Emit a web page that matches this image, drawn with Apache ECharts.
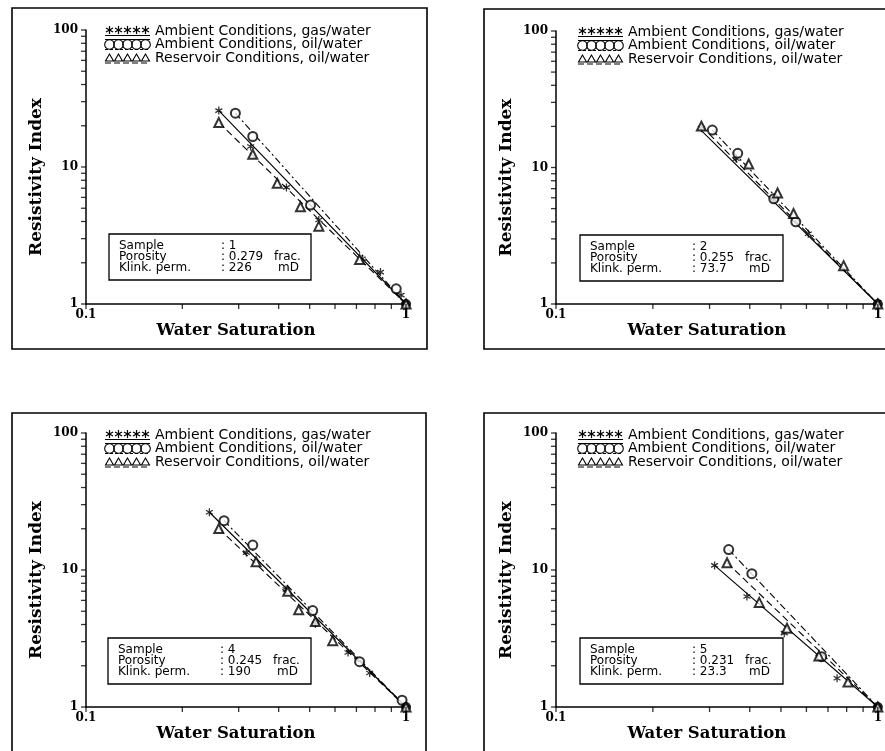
<!DOCTYPE html>
<html><head><meta charset="utf-8">
<script src="https://cdn.jsdelivr.net/npm/echarts@6/dist/echarts.min.js"></script>
<style>html,body{margin:0;padding:0;background:#fff}#c{width:885px;height:751px}</style>
</head><body><div id="c"></div>
<script>
// ---------- text ----------
const seriesNames = ['Ambient Conditions, gas/water', 'Ambient Conditions, oil/water', 'Reservoir Conditions, oil/water'];
const xTitle = 'Water Saturation';
const yTitle = 'Resistivity Index';
const infoLabels = ['Sample', 'Porosity', 'Klink. perm.'];
const infoUnits = ['', 'frac.', 'mD'];

// ---------- ticks ----------
const xTickValues = [0.1, 0.2, 0.3, 0.4, 0.5, 0.6, 0.7, 0.8, 0.9, 1];
const yTickValues = [1, 2, 3, 4, 5, 6, 7, 8, 9, 10, 20, 30, 40, 50, 60, 70, 80, 90, 100];
const xLabelValues = [0.1, 1];
const yLabelValues = [1, 10, 100];

// ---------- sample info ----------
const sampleIds = ['1', '2', '4', '5'];
const porosities = ['0.279', '0.255', '0.245', '0.231'];
const perms = ['226', '73.7', '190', '23.3'];

// ---------- data: [Sw, RI] ----------
// Sample 1
const gas1 = [[0.260, 25.8], [0.327, 14.1], [0.423, 7.1], [0.534, 4.1], [0.730, 2.14], [0.832, 1.71], [0.965, 1.16], [1, 1]];
const oil1 = [[0.293, 24.7], [0.332, 16.7], [0.503, 5.27], [0.932, 1.29], [1, 1]];
const res1 = [[0.260, 21.1], [0.332, 12.4], [0.396, 7.6], [0.468, 5.12], [0.534, 3.7], [0.716, 2.11], [1, 1]];
const gasFit1 = [[0.260, 25.8], [1, 1]];
const oilFit1 = [[0.293, 24.7], [1, 1]];
const resFit1 = [[0.260, 21.1], [1, 1]];
// Sample 2
const gas2 = [[0.283, 19.4], [0.363, 11.6], [0.477, 5.8], [0.608, 3.27], [1, 1.03]];
const oil2 = [[0.306, 18.8], [0.367, 12.7], [0.475, 5.9], [0.556, 4.0], [1, 1]];
const res2 = [[0.283, 20.1], [0.397, 10.6], [0.488, 6.5], [0.547, 4.6], [0.783, 1.91], [1, 1]];
const gasFit2 = [[0.283, 18.6], [1, 1]];
const oilFit2 = [[0.306, 18.8], [1, 1]];
const resFit2 = [[0.283, 20.1], [1, 1]];
// Sample 4
const gas4 = [[0.243, 26.4], [0.317, 13.4], [0.422, 7.2], [0.521, 4.04], [0.659, 2.5], [0.770, 1.77], [1, 1]];
const oil4 = [[0.270, 22.9], [0.332, 15.2], [0.511, 5.06], [0.716, 2.14], [0.972, 1.12], [1, 1]];
const res4 = [[0.260, 20.1], [0.340, 11.5], [0.427, 7.0], [0.462, 5.12], [0.521, 4.2], [0.590, 3.05], [1, 1]];
const gasFit4 = [[0.243, 26.4], [1, 1]];
const oilFit4 = [[0.270, 22.9], [1, 1]];
const resFit4 = [[0.260, 20.1], [1, 1]];
// Sample 5
const gas5 = [[0.311, 10.8], [0.392, 6.4], [0.512, 3.46], [0.656, 2.31], [0.747, 1.62], [1, 1]];
const oil5 = [[0.344, 14.1], [0.406, 9.4], [0.669, 2.33], [1, 1]];
const res5 = [[0.340, 11.3], [0.428, 5.8], [0.522, 3.76], [0.656, 2.36], [0.808, 1.52], [1, 1]];
const gasFit5 = [[0.311, 10.8], [1, 1]];
const oilFit5 = [[0.344, 14.1], [1, 1]];
const resFit5 = [[0.340, 11.3], [1, 1]];

const panelData = [
  {gas: gas1, oil: oil1, res: res1, gasFit: gasFit1, oilFit: oilFit1, resFit: resFit1},
  {gas: gas2, oil: oil2, res: res2, gasFit: gasFit2, oilFit: oilFit2, resFit: resFit2},
  {gas: gas4, oil: oil4, res: res4, gasFit: gasFit4, oilFit: oilFit4, resFit: resFit4},
  {gas: gas5, oil: oil5, res: res5, gasFit: gasFit5, oilFit: oilFit5, resFit: resFit5}
];

// ---------- layout ----------
const layouts = [
  {grid: {left: 86, top: 30, width: 320, height: 274}, frame: [12, 8, 415, 341], legend: [105, 31], box: [109, 234, 202, 46]},
  {grid: {left: 556, top: 31, width: 323, height: 273}, frame: [484, 9, 430, 340], legend: [578, 32], box: [580, 235, 203, 46]},
  {grid: {left: 86, top: 433, width: 320, height: 274}, frame: [12, 413, 414, 360], legend: [105, 435], box: [108, 638, 203, 46]},
  {grid: {left: 556, top: 433, width: 323, height: 274}, frame: [484, 413, 430, 360], legend: [578, 435], box: [580, 638, 203, 46]}
];

const BLACK = '#000';
const SERIF = 'DejaVu Serif';
const SANS = 'DejaVu Sans';
const starPath = 'path://M5,0L5,10M0.67,2.5L9.33,7.5M0.67,7.5L9.33,2.5';
const dashDot = [7, 3, 2, 3];
const dashed = [7, 4];

const grids = [], xAxes = [], yAxes = [], series = [], graphics = [];

function pointData(arr, filledEnd) {
  return arr.map(p => (p[0] === 1 && p[1] === 1 && filledEnd)
    ? {value: p, symbol: 'circle', symbolSize: 9, itemStyle: {color: BLACK, borderColor: BLACK}}
    : p);
}

layouts.forEach((L, i) => {
  grids.push(Object.assign({containLabel: false}, L.grid));
  xAxes.push({
    type: 'log', logBase: 10, gridIndex: i, min: 0.1, max: 1,
    axisLine: {lineStyle: {color: BLACK, width: 1.5}},
    axisTick: {show: false},
    axisLabel: {customValues: xLabelValues, color: BLACK, fontFamily: SERIF, fontWeight: 'bold', fontSize: 12, margin: 5,
      formatter: v => String(v)},
    splitLine: {show: false},
    name: xTitle, nameLocation: 'middle', nameGap: 16,
    nameTextStyle: {fontFamily: SERIF, fontWeight: 'bold', fontSize: 16.5, color: BLACK, padding: [0, 20, 0, 0]}
  });
  yAxes.push({
    type: 'log', logBase: 10, gridIndex: i, min: 1, max: 100,
    axisLine: {lineStyle: {color: BLACK, width: 1.5}},
    axisTick: {show: false},
    axisLabel: {customValues: yLabelValues, color: BLACK, fontFamily: SERIF, fontWeight: 'bold', fontSize: 12, margin: 8,
      formatter: v => String(v)},
    splitLine: {show: false},
    name: yTitle, nameLocation: 'middle', nameGap: 41,
    nameTextStyle: {fontFamily: SERIF, fontWeight: 'bold', fontSize: 17, color: BLACK, padding: [0, 20, 0, 0]}
  });

  // axis ticks drawn through the axes' own scales
  series.push({type: 'scatter', xAxisIndex: i, yAxisIndex: i, data: xTickValues.map(v => [v, yLabelValues[0]]),
    symbol: 'rect', symbolSize: [1.3, 5], symbolOffset: [0, 2.5], itemStyle: {color: BLACK}, clip: false, silent: true, z: 4});
  series.push({type: 'scatter', xAxisIndex: i, yAxisIndex: i, data: yTickValues.map(v => [xLabelValues[0], v]),
    symbol: 'rect', symbolSize: [5, 1.3], symbolOffset: [-2.5, 0], itemStyle: {color: BLACK}, clip: false, silent: true, z: 4});

  const D = panelData[i];
  // fitted lines
  series.push({type: 'line', name: seriesNames[0], xAxisIndex: i, yAxisIndex: i, data: D.gasFit, showSymbol: false, symbol: 'none',
    lineStyle: {color: BLACK, width: 1.1, type: 'solid'}, silent: true, z: 1});
  series.push({type: 'line', name: seriesNames[1], xAxisIndex: i, yAxisIndex: i, data: D.oilFit, showSymbol: false, symbol: 'none',
    lineStyle: {color: BLACK, width: 1.1, type: dashDot}, silent: true, z: 1});
  series.push({type: 'line', name: seriesNames[2], xAxisIndex: i, yAxisIndex: i, data: D.resFit, showSymbol: false, symbol: 'none',
    lineStyle: {color: BLACK, width: 1.1, type: dashed}, silent: true, z: 1});
  // points
  series.push({type: 'scatter', name: seriesNames[0], xAxisIndex: i, yAxisIndex: i, data: pointData(D.gas, false),
    symbol: starPath, symbolSize: 8, symbolKeepAspect: true,
    itemStyle: {color: 'none', borderColor: BLACK, borderWidth: 1.3}, z: 3});
  series.push({type: 'scatter', name: seriesNames[1], xAxisIndex: i, yAxisIndex: i, data: pointData(D.oil, true),
    symbol: 'emptyCircle', symbolSize: 9,
    itemStyle: {color: BLACK, borderColor: BLACK, borderWidth: 1.2}, z: 3});
  series.push({type: 'scatter', name: seriesNames[2], xAxisIndex: i, yAxisIndex: i, data: pointData(D.res, false),
    symbol: 'emptyTriangle', symbolSize: 9,
    itemStyle: {color: BLACK, borderColor: BLACK, borderWidth: 1.2}, z: 3});

  // frame
  const F = L.frame;
  graphics.push({type: 'rect', shape: {x: F[0], y: F[1], width: F[2], height: F[3]},
    style: {fill: 'none', stroke: BLACK, lineWidth: 1.6}, silent: true});

  // legend
  const lx = L.legend[0], ly = L.legend[1], step = 13.5;
  for (let k = 0; k < 5; k++) {
    const cx = lx + 4.5 + 9 * k;
    const cy = ly - 1;
    graphics.push({type: 'line', shape: {x1: cx, y1: cy - 4, x2: cx, y2: cy + 4}, style: {stroke: BLACK, lineWidth: 1.2}, silent: true});
    graphics.push({type: 'line', shape: {x1: cx - 3.5, y1: cy - 2, x2: cx + 3.5, y2: cy + 2}, style: {stroke: BLACK, lineWidth: 1.2}, silent: true});
    graphics.push({type: 'line', shape: {x1: cx - 3.5, y1: cy + 2, x2: cx + 3.5, y2: cy - 2}, style: {stroke: BLACK, lineWidth: 1.2}, silent: true});
    graphics.push({type: 'circle', shape: {cx: cx, cy: ly + step, r: 4.8}, style: {fill: 'none', stroke: BLACK, lineWidth: 1.1}, silent: true});
    const ty = ly + 2 * step;
    graphics.push({type: 'polygon', shape: {points: [[cx, ty - 4], [cx - 4, ty + 3], [cx + 4, ty + 3]]},
      style: {fill: 'none', stroke: BLACK, lineWidth: 1.1}, silent: true});
  }
  graphics.push({type: 'line', shape: {x1: lx, y1: ly + 4.5, x2: lx + 45, y2: ly + 4.5}, style: {stroke: BLACK, lineWidth: 1}, silent: true});
  graphics.push({type: 'line', shape: {x1: lx, y1: ly + step - 5, x2: lx + 45, y2: ly + step - 5}, style: {stroke: BLACK, lineWidth: 1}, silent: true});
  graphics.push({type: 'line', shape: {x1: lx, y1: ly + step + 5, x2: lx + 45, y2: ly + step + 5}, style: {stroke: BLACK, lineWidth: 1, lineDash: [3, 2]}, silent: true});
  graphics.push({type: 'line', shape: {x1: lx, y1: ly + 2 * step + 5, x2: lx + 45, y2: ly + 2 * step + 5}, style: {stroke: BLACK, lineWidth: 1, lineDash: [6, 3]}, silent: true});
  seriesNames.forEach((nm, k) => {
    graphics.push({type: 'text', x: lx + 50, y: ly + k * step,
      style: {text: nm, fill: BLACK, font: '14px "' + SANS + '"', textVerticalAlign: 'middle', textAlign: 'left'}, silent: true});
  });

  // info box
  const B = L.box;
  graphics.push({type: 'rect', shape: {x: B[0], y: B[1], width: B[2], height: B[3]},
    style: {fill: 'none', stroke: BLACK, lineWidth: 1.3}, silent: true});
  const vals = [sampleIds[i], porosities[i], perms[i]];
  infoLabels.forEach((lab, k) => {
    const yy = B[1] + 12 + 11 * k;
    graphics.push({type: 'text', x: B[0] + 10, y: yy,
      style: {text: lab, fill: BLACK, font: '12px "' + SANS + '"', textVerticalAlign: 'middle'}, silent: true});
    graphics.push({type: 'text', x: B[0] + 112, y: yy,
      style: {text: ': ' + vals[k], fill: BLACK, font: '12px "' + SANS + '"', textVerticalAlign: 'middle'}, silent: true});
    if (infoUnits[k]) {
      graphics.push({type: 'text', x: B[0] + (k === 1 ? 165 : 169), y: yy,
        style: {text: infoUnits[k], fill: BLACK, font: '12px "' + SANS + '"', textVerticalAlign: 'middle'}, silent: true});
    }
  });
});

const chart = echarts.init(document.getElementById('c'), null, {renderer: 'canvas'});
chart.setOption({
  animation: false,
  backgroundColor: '#fff',
  grid: grids,
  xAxis: xAxes,
  yAxis: yAxes,
  series: series,
  graphic: graphics
});
</script>
</body></html>
